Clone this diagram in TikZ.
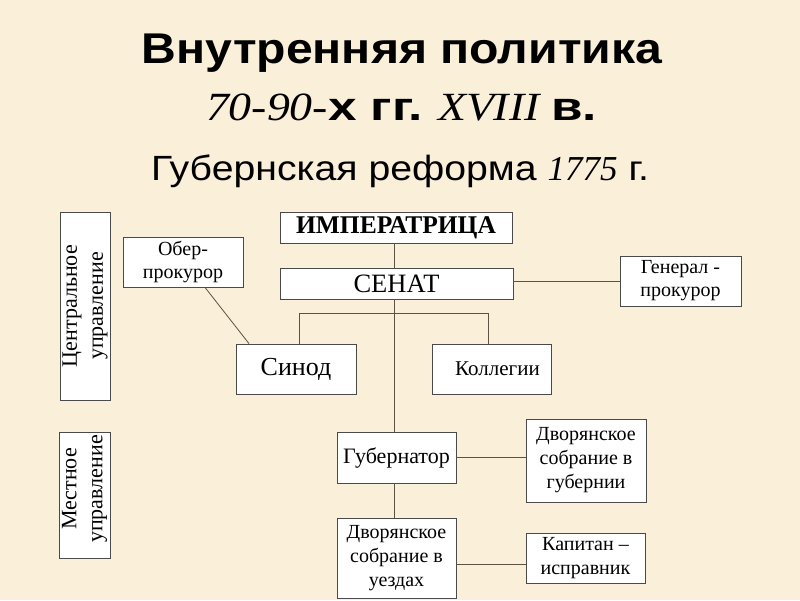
\documentclass[tikz,border=0pt]{standalone}
\usepackage{fontspec}
\usepackage{graphicx}
\setmainfont{Liberation Serif}
\newfontfamily\tsans[FakeStretch=1.12]{Liberation Sans}
\usetikzlibrary{calc}
\definecolor{parch}{HTML}{FAEFD8}
\definecolor{edge}{HTML}{4A4A4A}
\definecolor{wire}{HTML}{5C5244}
\begin{document}
\begin{tikzpicture}[x=1pt,y=-1pt,
  box/.style={draw=edge, line width=0.8pt, fill=white, inner sep=1pt, align=center,
    font=\fontsize{20}{23}\selectfont},
  vbox/.style={box, rotate=90, font=\fontsize{22}{26}\selectfont},
  conn/.style={draw=wire, line width=0.8pt},
  ttl/.style={anchor=base, inner sep=0pt}]
\fill[parch] (0,0) rectangle (800,600);
\useasboundingbox (0,0) rectangle (800,600);

% titles
\node[ttl] (t1) at (402,63) {\tsans\bfseries\fontsize{43}{50}\selectfont Внутренняя политика};
\node[ttl] (t2) at (401.5,120) {\scalebox{1.145}[1]{\fontsize{40}{48}\selectfont\itshape 70-90-{\tsans\upshape\bfseries х гг.} XVIII {\tsans\upshape\bfseries в.}}};
\node[ttl] (t3) at (400,180) {\tsans\fontsize{35}{42}\selectfont Губернская реформа {\rmfamily\itshape 1775} г.};

% side boxes
\node[vbox, minimum width=188, minimum height=50] (central) at (85,306) {Центральное\\управление};
\node[vbox, minimum width=126, minimum height=51] (local) at (84.5,495) {\hspace*{12pt}Местное\\\hspace*{12pt}управление};

% boxes
\node[box, minimum width=232, minimum height=31, font=\bfseries\fontsize{25.5}{28}\selectfont] (imp) at (396,227.5) {ИМПЕРАТРИЦА};
\node[box, minimum width=233, minimum height=31, font=\fontsize{26.5}{30}\selectfont] (senat) at (396.5,283.5) {СЕНАТ};
\node[box, minimum width=121, minimum height=50] (gen) at (680.5,281) {Генерал -\\прокурор};
\node[box, minimum width=120, minimum height=50] (ober) at (183,262) {Обер-\\прокурор};
\node[box, minimum width=120, minimum height=50, font=\fontsize{26}{30}\selectfont] (sinod) at (296,369) {Синод};
\node[box, minimum width=119, minimum height=50, font=\fontsize{21}{24}\selectfont] (koll) at (491.5,369) {\hspace*{12pt}Коллегии};
\node[box, minimum width=119, minimum height=51, font=\fontsize{22}{26}\selectfont] (gub) at (396.5,457.5) {Губернатор};
\node[box, minimum width=120, minimum height=83, font=\fontsize{20}{24}\selectfont] (dsg) at (586,460.5) {Дворянское\\собрание в\\губернии};
\node[box, minimum width=119, minimum height=80, font=\fontsize{20}{24}\selectfont] (dsu) at (396.5,558) {Дворянское\\собрание в\\уездах};
\node[box, minimum width=119, minimum height=50, font=\fontsize{20}{24}\selectfont] (kap) at (585.5,558) {Капитан –\\исправник};

% connectors
\coordinate (sp) at (394,0);
\draw[conn] (sp |- imp.south) -- (sp |- senat.north);
\draw[conn] (sp |- senat.south) -- (sp |- gub.north);
\draw[conn] (sp |- gub.south) -- (sp |- dsu.north);
\coordinate (bl) at (299,313);
\coordinate (br) at (488,313);
\draw[conn] (bl |- sinod.north) -- (bl) -- (br) -- (br |- koll.north);
\draw[conn] ($(ober.south)+(22,0)$) -- ($(sinod.north)+(-47,0)$);
\draw[conn] (senat.east |- gen.west) -- (gen.west);
\draw[conn] (gub.east) -- (gub.east -| dsg.west);
\coordinate (dk) at ($(dsu.east)+(0,6)$);
\draw[conn] (dk) -- (dk -| kap.west);
\end{tikzpicture}
\end{document}
